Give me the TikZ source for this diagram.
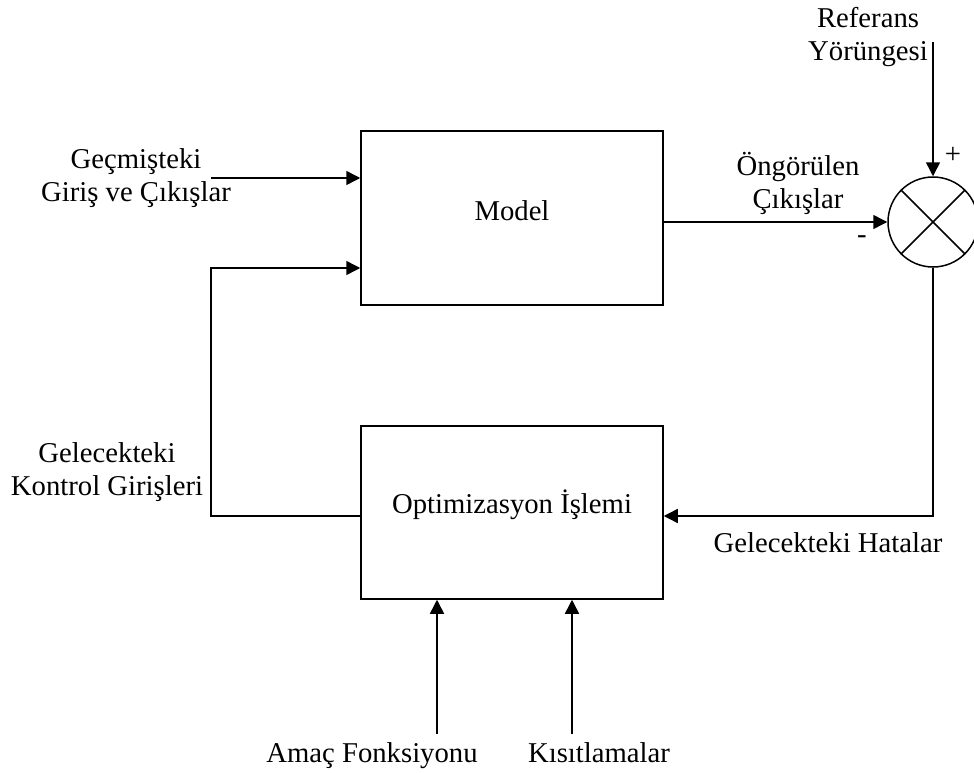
\documentclass[tikz,border=0pt]{standalone}
\usepackage{fontspec}
\setmainfont{Liberation Serif}
\usetikzlibrary{arrows.meta}
\begin{document}
\begin{tikzpicture}[x=1pt,y=-1pt,line width=1.5pt,
  every node/.style={font=\fontsize{28.7pt}{33pt}\selectfont},
  blk/.style={draw,rectangle,inner sep=0pt,minimum width=302pt},
  lbl/.style={align=center,inner sep=0pt},
  arr/.style={-{Triangle[length=14pt,width=14pt]}}]
\useasboundingbox (0,0) rectangle (974,773);
% blocks
\node[blk,minimum height=174pt,text height=20pt,text depth=16pt] (model) at (512,218) {Model};
\node[blk,minimum height=173pt,text height=20pt,text depth=19pt] (opt) at (512,512.5) {Optimizasyon İşlemi};
\node[draw,circle,inner sep=0pt,minimum size=90pt] (sum) at (933,222) {};
\draw (sum.north west) -- (sum.south east);
\draw (sum.north east) -- (sum.south west);
% labels
\node[lbl] (ref) at (868,37) {Referans\\Yörüngesi};
\node[lbl] (gec) at (136,178) {Geçmişteki\\Giriş ve Çıkışlar};
\node[lbl] (ong) at (798,183) {Öngörülen\\Çıkışlar};
\node[lbl] (gkg) at (107,472) {Gelecekteki\\Kontrol Girişleri};
\node[lbl,anchor=base] (gh) at (828,552) {Gelecekteki Hatalar};
\node[lbl,anchor=base] (af) at (372,762) {Amaç Fonksiyonu};
\node[lbl,anchor=base] (ks) at (599,762) {Kısıtlamalar};
\node[lbl] (plus) at (953,155) {+};
\node[lbl] (minus) at (862,240) {-};
% coordinates
\coordinate (reftop) at (933,42);
\coordinate (gin) at (211,178);
\coordinate (fbtop) at (211,268);
\coordinate (fbbot) at (211,516);
\coordinate (errin) at (663,516);
\coordinate (amacin) at (437,734);
\coordinate (kisin) at (572,734);
% connectors
\draw[arr] (reftop) -- (sum.north);
\draw[arr] (gin) -- (gin -| model.west);
\draw[arr] (model.east |- sum.west) -- (sum.west);
\draw[arr] (fbbot -| opt.west) -- (fbbot) -- (fbtop) -- (fbtop -| model.west);
\draw[arr] (sum.south) |- (errin -| opt.east);
\draw[arr] (amacin) -- (amacin |- opt.south);
\draw[arr] (kisin) -- (kisin |- opt.south);
\end{tikzpicture}
\end{document}
